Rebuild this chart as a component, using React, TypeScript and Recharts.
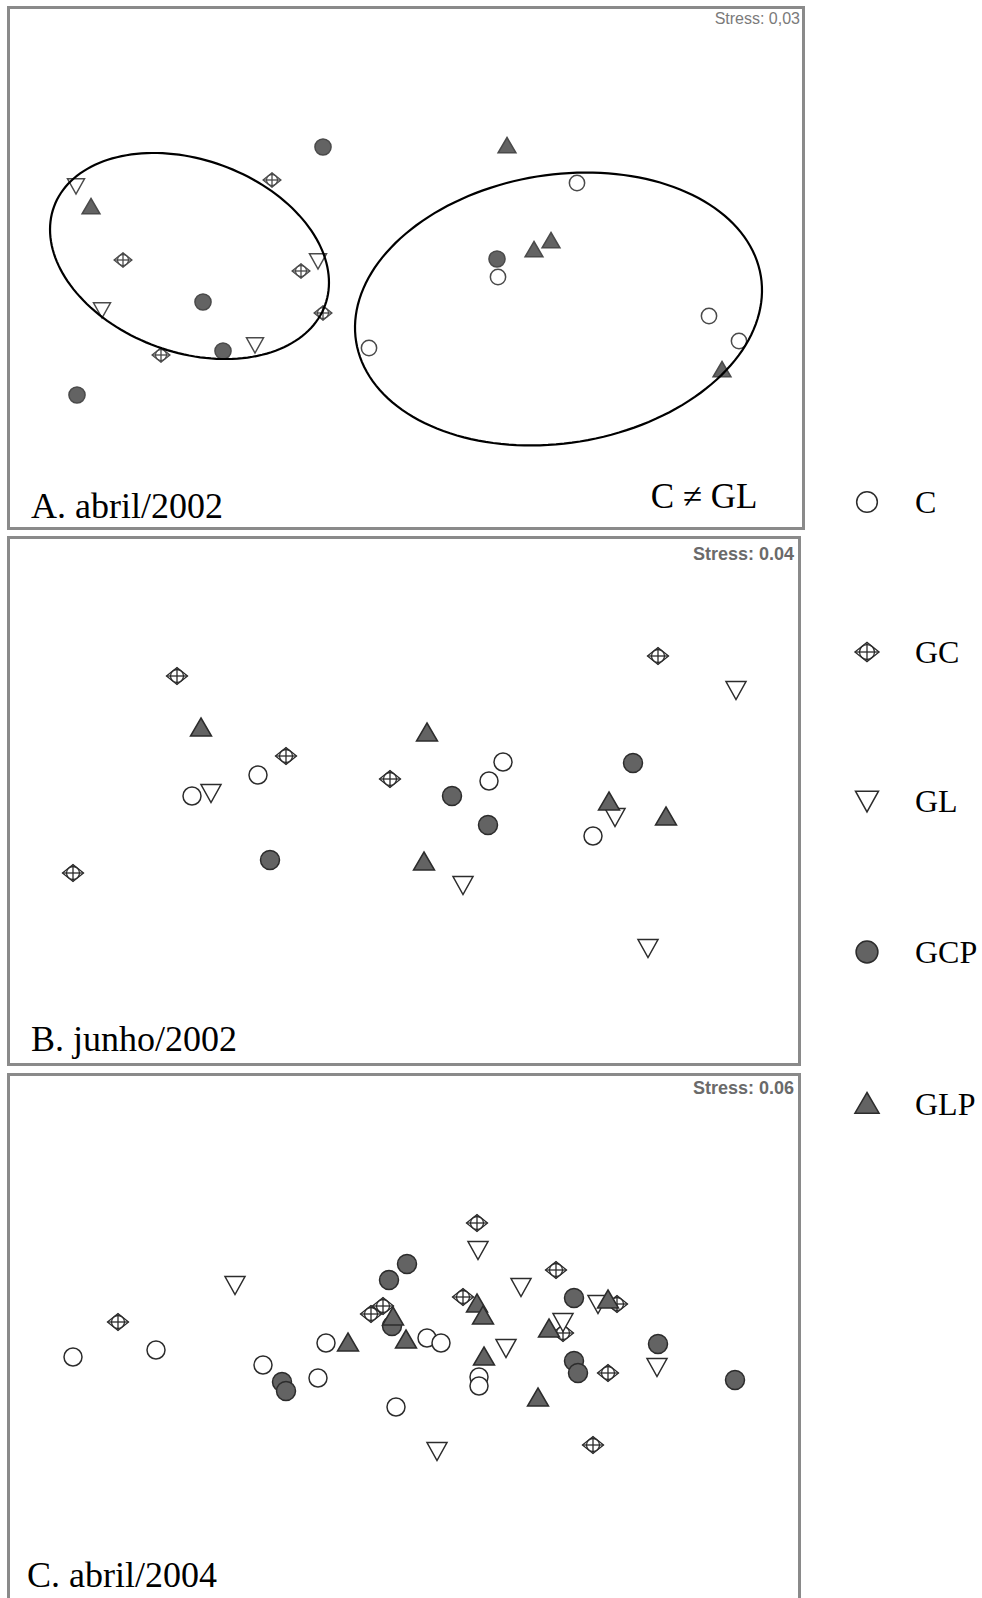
import React from 'react';
import { ScatterChart, Scatter, XAxis, YAxis } from 'recharts';

type Pt = { x: number; y: number };
type Kind = 'C' | 'GC' | 'GL' | 'GCP' | 'GLP';

// Group codes, in drawing order
const groups: Kind[] = ['C', 'GC', 'GL', 'GCP', 'GLP'];

// A. abril/2002 — MDS ordination coordinates
const abr02C: Pt[] = [
  { x: 1.71, y: 0.85 }, { x: 0.92, y: -0.09 }, { x: 3.03, y: -0.48 }, { x: 3.33, y: -0.73 }, { x: -0.37, y: -0.8 },
];
const abr02GC: Pt[] = [
  { x: -1.34, y: 0.88 }, { x: -2.83, y: 0.08 }, { x: -1.05, y: -0.03 }, { x: -0.83, y: -0.45 }, { x: -2.45, y: -0.87 },
];
const abr02GL: Pt[] = [
  { x: -3.3, y: 0.82 }, { x: -0.88, y: 0.07 }, { x: -3.04, y: -0.42 }, { x: -1.51, y: -0.77 },
];
const abr02GCP: Pt[] = [
  { x: -0.83, y: 1.21 }, { x: -2.03, y: -0.34 }, { x: -1.83, y: -0.83 }, { x: -3.29, y: -1.27 }, { x: 0.91, y: 0.09 },
];
const abr02GLP: Pt[] = [
  { x: -3.15, y: 0.61 }, { x: 1.01, y: 1.22 }, { x: 1.45, y: 0.27 }, { x: 1.28, y: 0.18 }, { x: 3.16, y: -1.02 },
];

// Cluster ellipses drawn on abril/2002 (centre, semi-axes, rotation in degrees)
const abr02Ellipses = [
  { cx: -2.165, cy: 0.12, rx: 1.442, ry: 0.963, angle: -19.95 },
  { cx: 1.525, cy: -0.41, rx: 2.05, ry: 1.342, angle: 9.2 },
];

// B. junho/2002
const jun02C: Pt[] = [
  { x: -2.12, y: 0.05 }, { x: -1.46, y: 0.26 }, { x: 0.99, y: 0.39 }, { x: 0.85, y: 0.2 }, { x: 1.89, y: -0.35 },
];
const jun02GC: Pt[] = [
  { x: -2.27, y: 1.25 }, { x: -1.18, y: 0.45 }, { x: -0.14, y: 0.22 }, { x: -3.31, y: -0.72 }, { x: 2.54, y: 1.45 },
];
const jun02GL: Pt[] = [
  { x: -1.93, y: 0.08 }, { x: 0.59, y: -0.84 }, { x: 3.32, y: 1.11 }, { x: 2.11, y: -0.16 }, { x: 2.44, y: -1.47 },
];
const jun02GCP: Pt[] = [
  { x: -1.34, y: -0.59 }, { x: 0.48, y: 0.05 }, { x: 0.84, y: -0.24 }, { x: 2.29, y: 0.38 },
];
const jun02GLP: Pt[] = [
  { x: -2.03, y: 0.73 }, { x: 0.23, y: 0.68 }, { x: 0.2, y: -0.61 }, { x: 2.05, y: -0.01 }, { x: 2.62, y: -0.16 },
];

// C. abril/2004
const abr04C: Pt[] = [
  { x: -3.31, y: -0.19 }, { x: -2.48, y: -0.12 }, { x: -1.41, y: -0.27 }, { x: -0.86, y: -0.4 }, { x: -0.78, y: -0.05 },
  { x: -0.08, y: -0.69 }, { x: 0.23, y: 0.0 }, { x: 0.37, y: -0.05 }, { x: 0.75, y: -0.39 }, { x: 0.75, y: -0.48 },
];
const abr04GC: Pt[] = [
  { x: -2.86, y: 0.16 }, { x: -0.33, y: 0.24 }, { x: -0.21, y: 0.32 }, { x: 0.73, y: 1.15 }, { x: 1.52, y: 0.68 },
  { x: 0.59, y: 0.41 }, { x: 2.13, y: 0.34 }, { x: 1.59, y: 0.05 }, { x: 2.04, y: -0.35 }, { x: 1.89, y: -1.07 },
];
const abr04GL: Pt[] = [
  { x: -1.69, y: 0.53 }, { x: 0.74, y: 0.88 }, { x: 1.17, y: 0.51 }, { x: 1.94, y: 0.34 },
  { x: 1.59, y: 0.16 }, { x: 1.02, y: -0.1 }, { x: 2.53, y: -0.29 }, { x: 0.33, y: -1.13 },
];
const abr04GCP: Pt[] = [
  { x: -1.22, y: -0.44 }, { x: -1.18, y: -0.53 }, { x: -0.15, y: 0.58 }, { x: 0.03, y: 0.74 }, { x: -0.12, y: 0.12 },
  { x: 1.7, y: 0.4 }, { x: 1.7, y: -0.23 }, { x: 1.74, y: -0.35 }, { x: 2.54, y: -0.06 }, { x: 3.31, y: -0.42 },
];
const abr04GLP: Pt[] = [
  { x: -0.56, y: -0.05 }, { x: -0.11, y: 0.21 }, { x: 0.02, y: -0.02 }, { x: 0.73, y: 0.34 }, { x: 0.79, y: 0.22 },
  { x: 2.04, y: 0.38 }, { x: 1.45, y: 0.09 }, { x: 0.8, y: -0.19 }, { x: 1.34, y: -0.6 },
];

// Panel titles and stress values
const panelTitles = ['A. abril/2002', 'B. junho/2002', 'C. abril/2004'];
const stressLabels = ['Stress: 0,03', 'Stress: 0.04', 'Stress: 0.06'];
const contrastNote = 'C \u2260 GL';

const INK = '#2c2c2c';
const FILL = '#636363';

function Glyph({ kind, cx, cy, s, ink = INK }: { kind: Kind; cx: number; cy: number; s: number; ink?: string }) {
  const sw = 1.5;
  if (kind === 'C') {
    return <circle cx={cx} cy={cy} r={9 * s} fill="#fff" stroke={ink} strokeWidth={sw} />;
  }
  if (kind === 'GCP') {
    return <circle cx={cx} cy={cy} r={9.5 * s} fill={FILL} stroke={ink} strokeWidth={sw} />;
  }
  if (kind === 'GL') {
    const w = 10 * s, t = 8.5 * s, b = 9.5 * s;
    return (
      <polygon
        points={`${cx - w},${cy - t} ${cx + w},${cy - t} ${cx},${cy + b}`}
        fill="#fff"
        stroke={ink}
        strokeWidth={sw}
      />
    );
  }
  if (kind === 'GLP') {
    const w = 10.5 * s, t = 10 * s, b = 8 * s;
    return (
      <polygon
        points={`${cx},${cy - t} ${cx + w},${cy + b} ${cx - w},${cy + b}`}
        fill={FILL}
        stroke={ink}
        strokeWidth={sw}
      />
    );
  }
  // GC: circled cross set in a diamond
  const w = 10.5 * s, h = 8.5 * s, r = 6.5 * s;
  return (
    <g stroke={ink} strokeWidth={1.3} fill="none">
      <polygon points={`${cx - w},${cy} ${cx},${cy - h} ${cx + w},${cy} ${cx},${cy + h}`} fill="#fff" />
      <circle cx={cx} cy={cy} r={r} />
      <line x1={cx - w} y1={cy} x2={cx + w} y2={cy} />
      <line x1={cx} y1={cy - h} x2={cx} y2={cy + h} />
    </g>
  );
}

function makeShape(kind: Kind, s: number, ink?: string) {
  return (props: any) => <Glyph kind={kind} cx={props.cx} cy={props.cy} s={s} ink={ink} />;
}

// Outline points of a rotated ellipse, in data units
function ellipseOutline(e: { cx: number; cy: number; rx: number; ry: number; angle: number }): Pt[] {
  const th = (e.angle * Math.PI) / 180;
  const out: Pt[] = [];
  const n = 160;
  for (let i = 0; i <= n; i++) {
    const t = (i / n) * Math.PI * 2;
    const ex = e.rx * Math.cos(t);
    const ey = e.ry * Math.sin(t);
    out.push({
      x: e.cx + ex * Math.cos(th) - ey * Math.sin(th),
      y: e.cy + ex * Math.sin(th) + ey * Math.cos(th),
    });
  }
  return out;
}

type PanelProps = {
  left: number;
  top: number;
  width: number;
  height: number;
  series: Pt[][];
  scale: number;
  ink?: string;
  ellipses?: { cx: number; cy: number; rx: number; ry: number; angle: number }[];
};

function Panel({ left, top, width, height, series, scale, ink, ellipses = [] }: PanelProps) {
  const hx = width / 200;
  const hy = height / 200;
  return (
    <div style={{ position: 'absolute', left, top, width, height }}>
      <ScatterChart width={width} height={height} margin={{ top: 0, right: 0, bottom: 0, left: 0 }}>
        <XAxis type="number" dataKey="x" domain={[-hx, hx]} hide allowDataOverflow />
        <YAxis type="number" dataKey="y" domain={[-hy, hy]} hide allowDataOverflow />
        {series.map((data, i) => (
          <Scatter
            key={groups[i]}
            name={groups[i]}
            data={data}
            shape={makeShape(groups[i], scale, ink)}
            isAnimationActive={false}
          />
        ))}
        {ellipses.map((e, i) => (
          <Scatter
            key={'ellipse' + i}
            data={ellipseOutline(e)}
            line={{ stroke: '#000', strokeWidth: 2.2, fill: 'none' }}
            shape={() => <g />}
            legendType="none"
            isAnimationActive={false}
          />
        ))}
      </ScatterChart>
    </div>
  );
}

const SERIF = '"Liberation Serif", "Times New Roman", serif';
const SANS = '"Liberation Sans", Arial, sans-serif';

export default function App() {
  const legendY = [502, 652, 801, 952, 1104];
  return (
    <div
      style={{
        position: 'absolute',
        left: 0,
        top: 0,
        width: 982,
        height: 1598,
        overflow: 'hidden',
        background: '#fff',
      }}
    >
      <Panel
        left={10}
        top={9}
        width={792}
        height={518}
        series={[abr02C, abr02GC, abr02GL, abr02GCP, abr02GLP]}
        scale={0.85}
        ink="#4a4a4a"
        ellipses={abr02Ellipses}
      />
      <Panel
        left={10}
        top={539}
        width={788}
        height={524}
        series={[jun02C, jun02GC, jun02GL, jun02GCP, jun02GLP]}
        scale={1}
      />
      <Panel
        left={10}
        top={1076}
        width={788}
        height={524}
        series={[abr04C, abr04GC, abr04GL, abr04GCP, abr04GLP]}
        scale={1}
      />
      <svg
        width={982}
        height={1598}
        style={{ position: 'absolute', left: 0, top: 0, pointerEvents: 'none' }}
      >
        {/* panel frames */}
        <rect x={8.5} y={7.5} width={795} height={521} fill="none" stroke="#8a8a8a" strokeWidth={3} />
        <rect x={8.5} y={537.5} width={791} height={527} fill="none" stroke="#8a8a8a" strokeWidth={3} />
        <rect x={8.5} y={1074.5} width={791} height={527} fill="none" stroke="#8a8a8a" strokeWidth={3} />

        {/* stress values */}
        <text x={800} y={24} textAnchor="end" fontFamily={SANS} fontSize={16} fill="#7a7a7a">
          {stressLabels[0]}
        </text>
        <text x={794} y={560} textAnchor="end" fontFamily={SANS} fontSize={18} fontWeight="bold" fill="#6a6a6a">
          {stressLabels[1]}
        </text>
        <text x={794} y={1094} textAnchor="end" fontFamily={SANS} fontSize={18} fontWeight="bold" fill="#6a6a6a">
          {stressLabels[2]}
        </text>

        {/* panel titles */}
        <text x={31} y={518} fontFamily={SERIF} fontSize={36} fill="#000">{panelTitles[0]}</text>
        <text x={31} y={1051} fontFamily={SERIF} fontSize={36} fill="#000">{panelTitles[1]}</text>
        <text x={27} y={1587} fontFamily={SERIF} fontSize={36} fill="#000">{panelTitles[2]}</text>
        <text x={704} y={508} textAnchor="middle" fontFamily={SERIF} fontSize={35} fill="#000">
          {contrastNote}
        </text>

        {/* legend */}
        {groups.map((g, i) => (
          <g key={g}>
            <Glyph kind={g} cx={867} cy={legendY[i]} s={1.15} />
            <text x={915} y={legendY[i] + 11} fontFamily={SERIF} fontSize={32} fill="#000">
              {g}
            </text>
          </g>
        ))}
      </svg>
    </div>
  );
}
